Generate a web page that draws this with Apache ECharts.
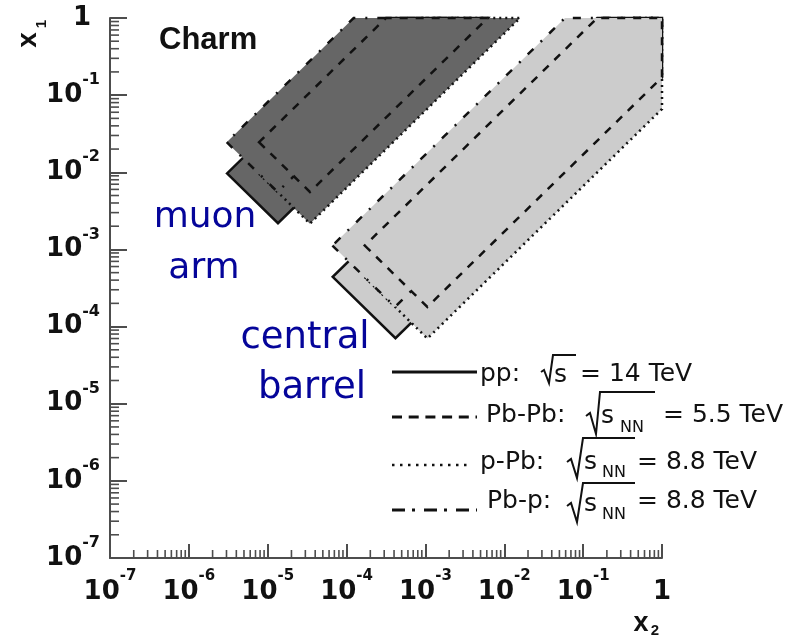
<!DOCTYPE html>
<html><head><meta charset="utf-8">
<script src="https://cdn.jsdelivr.net/npm/echarts@6/dist/echarts.min.js"></script>
<style>html,body{margin:0;padding:0;background:#fff}#c{width:800px;height:639px}</style>
</head><body><div id="c"></div>
<script>
// ---- axis data ----
const tickExponents = [-7, -6, -5, -4, -3, -2, -1, 0];
const minorMultipliers = [2, 3, 4, 5, 6, 7, 8, 9];
const minorDecades = [1e-7, 1e-6, 1e-5, 1e-4, 1e-3, 1e-2, 1e-1];

// ---- acceptance regions, vertices as [x2, x1] ----
// muon arm
const ppMuon    = [[3.05e-6, 9.66e-3], [1.35e-5, 2.19e-3], [6.17e-3, 1], [3.16e-4, 1]];
const pPbMuon   = [[7.76e-6, 9.55e-3], [3.43e-5, 2.16e-3], [1.585e-2, 1], [8.13e-4, 1]];
const PbpMuon   = [[3.02e-6, 2.455e-2], [1.334e-5, 5.56e-3], [2.40e-3, 1], [1.23e-4, 1]];
const PbPbMuon  = [[7.76e-6, 2.455e-2], [3.43e-5, 5.56e-3], [6.17e-3, 1], [3.16e-4, 1]];
// central barrel
const ppCentral   = [[6.68e-5, 4.42e-4], [4.17e-4, 7.08e-5], [1, 0.170], [1, 1], [0.151, 1]];
const pPbCentral  = [[1.70e-4, 4.37e-4], [1.059e-3, 7.00e-5], [1, 0.0661], [1, 1], [0.389, 1]];
const PbpCentral  = [[6.61e-5, 1.122e-3], [4.12e-4, 1.80e-4], [1, 0.4365], [1, 1], [0.0589, 1]];
const PbPbCentral = [[1.70e-4, 1.122e-3], [1.059e-3, 1.80e-4], [1, 0.170], [1, 1], [0.151, 1]];

const DARK = '#666666', LIGHT = '#cccccc', INK = '#111111', AX = '#4d4d4d';
const SOLID = null, DASH = [8, 8], DOT = [2, 4], DASHDOT = [8, 10, 2, 10];

const minorValues = [];
minorDecades.forEach(d => minorMultipliers.forEach(m => minorValues.push(m * d)));

function polySeries(name, verts, fill, dash, width, z) {
  return {
    type: 'custom', name, coordinateSystem: 'cartesian2d', z, silent: true,
    data: verts, encode: { x: 0, y: 1 },
    renderItem(params, api) {
      if (params.dataIndex !== 0) return null;
      const pts = verts.map(v => api.coord(v));
      return { type: 'polygon', shape: { points: pts },
        style: { fill, stroke: INK, lineWidth: width, lineDash: dash, lineJoin: 'miter' } };
    }
  };
}

function labelFmt(v) {
  const e = Math.round(Math.log10(v));
  if (!tickExponents.includes(e)) return '';
  return e === 0 ? '{one|1}' : '{b|10}{s|' + e + '}';
}

const FF = 'DejaVu Sans';
const F = '"DejaVu Sans"';
function txt(x, y, text, font, align, extra) {
  const style = Object.assign({ text, font, fill: INK, align: align || 'left', verticalAlign: 'middle',
    textAlign: align || 'left', textVerticalAlign: 'middle' }, extra || {});
  return { type: 'text', x, y, silent: true, z: 100, style };
}
function seg(x1, y1, x2, y2, dash, w) {
  return { type: 'line', silent: true, z: 100, shape: { x1, y1, x2, y2 },
    style: { stroke: INK, lineWidth: w, lineDash: dash } };
}
function sqrtSign(pts) {
  return { type: 'polyline', silent: true, z: 100, shape: { points: pts },
    style: { stroke: INK, lineWidth: 2, fill: null } };
}
const LF = '25px ' + F, SF = '16px ' + F;

const graphic = [
  txt(159, 40, 'Charm', 'bold 31px "Liberation Sans"'),
  // axis titles
  { type: 'text', x: 28, y: 40, rotation: Math.PI / 2, silent: true, z: 100,
    style: { text: 'x', font: 'bold 28px "Liberation Sans"', fill: INK, align: 'center', verticalAlign: 'middle', textAlign: 'center', textVerticalAlign: 'middle' } },
  { type: 'text', x: 42, y: 24, rotation: Math.PI / 2, silent: true, z: 100,
    style: { text: '1', font: 'bold 15px "Liberation Sans"', fill: INK, align: 'center', verticalAlign: 'middle', textAlign: 'center', textVerticalAlign: 'middle' } },
  txt(641, 624, 'x', 'bold 27px "Liberation Sans"', 'center'),
  txt(655, 631, '2', 'bold 15px "Liberation Sans"', 'center'),
  // blue annotations
  txt(205, 218, 'muon', '36px ' + F, 'center', { fill: '#05059a' }),
  txt(204, 269, 'arm', '36px ' + F, 'center', { fill: '#05059a' }),
  txt(305, 338, 'central', '37px ' + F, 'center', { fill: '#05059a' }),
  txt(312, 388, 'barrel', '37px ' + F, 'center', { fill: '#05059a' }),
  // legend row 1
  seg(392, 372, 477, 372, null, 3),
  txt(480, 374, 'pp:', LF),
  sqrtSign([[541, 372], [544, 370], [549, 383], [553, 355], [576, 355]]),
  txt(554, 375, 's', LF),
  txt(580, 374, '= 14 TeV', LF),
  // legend row 2
  seg(392, 417, 477, 417, [10, 6.7], 3),
  txt(486, 415, 'Pb-Pb:', LF),
  sqrtSign([[586, 416], [590, 413], [596, 434], [600, 392], [655, 392]]),
  txt(601, 416, 's', LF),
  txt(620, 428, 'NN', SF),
  txt(663, 415, '= 5.5 TeV', LF),
  // legend row 3
  seg(392, 465, 472, 465, [2.5, 5.5], 2.5),
  txt(480, 462, 'p-Pb:', LF),
  sqrtSign([[567, 462], [571, 459], [577, 478], [583, 438], [635, 438]]),
  txt(584, 462, 's', LF),
  txt(602, 473, 'NN', SF),
  txt(637, 462, '= 8.8 TeV', LF),
  // legend row 4
  seg(392, 510, 477, 510, [13, 7, 3, 9], 3),
  txt(487, 501, 'Pb-p:', LF),
  sqrtSign([[567, 506], [571, 503], [577, 522], [583, 483], [635, 483]]),
  txt(584, 504, 's', LF),
  txt(602, 515, 'NN', SF),
  txt(637, 501, '= 8.8 TeV', LF)
];

const option = {
  animation: false,
  backgroundColor: '#ffffff',
  grid: { left: 110, right: 138, top: 18, bottom: 81, containLabel: false },
  xAxis: {
    type: 'log', logBase: 10, min: 1e-7, max: 1,
    axisLine: { show: true, lineStyle: { color: AX, width: 2 } },
    axisTick: { show: true, inside: true, length: 14, lineStyle: { color: AX, width: 2 } },
    splitLine: { show: false },
    axisLabel: {
      margin: 11, formatter: labelFmt, color: INK,
      rich: {
        b: { fontFamily: FF, fontWeight: 'bold', fontSize: 26, lineHeight: 46, verticalAlign: 'middle', color: INK },
        s: { fontFamily: FF, fontWeight: 'bold', fontSize: 15, lineHeight: 16, verticalAlign: 'top', color: INK },
        one: { fontFamily: FF, fontWeight: 'bold', fontSize: 26, lineHeight: 46, verticalAlign: 'middle', color: INK }
      }
    }
  },
  yAxis: {
    type: 'log', logBase: 10, min: 1e-7, max: 1,
    axisLine: { show: true, lineStyle: { color: AX, width: 2 } },
    axisTick: { show: true, inside: true, length: 17, lineStyle: { color: AX, width: 2 } },
    splitLine: { show: false },
    axisLabel: {
      margin: 10, formatter: labelFmt, color: INK,
      rich: {
        b: { fontFamily: FF, fontWeight: 'bold', fontSize: 26, lineHeight: 46, verticalAlign: 'middle', color: INK },
        s: { fontFamily: FF, fontWeight: 'bold', fontSize: 16, lineHeight: 16, verticalAlign: 'top', color: INK },
        one: { fontFamily: FF, fontWeight: 'bold', fontSize: 26, lineHeight: 46, padding: [0, 9, 0, 0], verticalAlign: 'middle', color: INK }
      }
    }
  },
  series: [
    polySeries('pp muon', ppMuon, DARK, SOLID, 2.5, 2),
    polySeries('pp central', ppCentral, LIGHT, SOLID, 2.5, 2),
    polySeries('p-Pb muon', pPbMuon, DARK, DOT, 2.5, 3),
    polySeries('p-Pb central', pPbCentral, LIGHT, DOT, 2.5, 3),
    polySeries('Pb-p muon', PbpMuon, DARK, DASHDOT, 2.5, 4),
    polySeries('Pb-p central', PbpCentral, LIGHT, DASHDOT, 2.5, 4),
    polySeries('Pb-Pb muon', PbPbMuon, DARK, DASH, 2.5, 5),
    polySeries('Pb-Pb central', PbPbCentral, LIGHT, DASH, 2.5, 5),
    {
      type: 'custom', name: 'x minor ticks', coordinateSystem: 'cartesian2d', z: 6, silent: true,
      data: minorValues.map(v => [v, 1e-7]),
      renderItem(params, api) {
        const p = api.coord([api.value(0), 1e-7]);
        return { type: 'line', shape: { x1: p[0], y1: p[1], x2: p[0], y2: p[1] - 8 }, style: { stroke: AX, lineWidth: 1.6 } };
      }
    },
    {
      type: 'custom', name: 'y minor ticks', coordinateSystem: 'cartesian2d', z: 6, silent: true,
      data: minorValues.map(v => [1e-7, v]),
      renderItem(params, api) {
        const p = api.coord([1e-7, api.value(1)]);
        return { type: 'line', shape: { x1: p[0], y1: p[1], x2: p[0] + 9, y2: p[1] }, style: { stroke: AX, lineWidth: 1.6 } };
      }
    }
  ],
  graphic
};
const chart = echarts.init(document.getElementById('c'));
chart.setOption(option);
</script></body></html>
